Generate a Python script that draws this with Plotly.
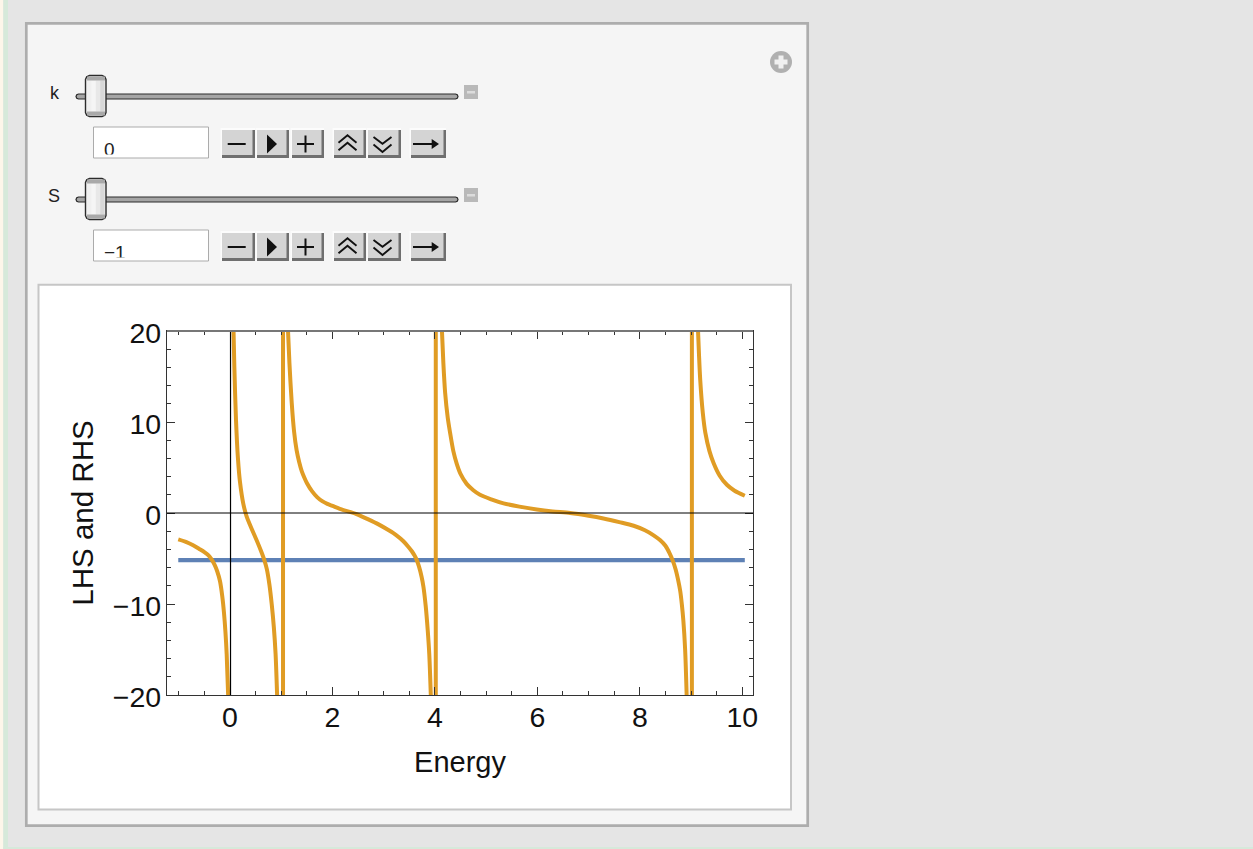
import plotly.graph_objects as go

# ---- data ----
lhs_level = [-5.18, -5.18]
lhs_energy = [-1.01, 10.05]

branch1_x = [-1.01, -0.85, -0.72, -0.6, -0.5, -0.42, -0.36, -0.3, -0.25, -0.195, -0.15, -0.117, -0.09, -0.065, -0.03]
branch1_y = [-2.9, -3.2, -3.55, -3.95, -4.3, -4.65, -5.1, -5.7, -6.4, -7.5, -9.2, -11.0, -13.0, -15.5, -21.0]

branch2_x = [0.065, 0.085, 0.117, 0.155, 0.195, 0.26, 0.326, 0.42, 0.52, 0.6, 0.67, 0.72, 0.77, 0.814, 0.855, 0.89, 0.925]
branch2_y = [21.0, 16.0, 10.2, 6.0, 3.4, 1.0, -0.4, -1.7, -3.0, -4.1, -5.18, -6.2, -7.9, -10.0, -12.5, -15.5, -21.0]

branch3_x = [1.125, 1.16, 1.205, 1.25, 1.30, 1.35, 1.40, 1.45, 1.5, 1.6, 1.7, 1.8, 1.9, 2.0, 2.2, 2.34,
             2.47, 2.7, 2.9, 3.1, 3.25, 3.385, 3.48, 3.55, 3.6, 3.646, 3.69, 3.74, 3.776, 3.82, 3.86, 3.89, 3.926]
branch3_y = [21.0, 16.5, 12.1, 9.0, 6.9, 5.6, 4.6, 3.9, 3.3, 2.4, 1.75, 1.3, 1.0, 0.78, 0.35, 0.12,
             -0.12, -0.7, -1.25, -1.9, -2.45, -3.1, -3.7, -4.2, -4.65, -5.18, -5.9, -7.0, -8.1, -10.2, -12.9, -15.5, -21.0]

branch4_x = [4.13, 4.165, 4.2, 4.25, 4.297, 4.36, 4.427, 4.5, 4.62, 4.75, 4.88, 5.1, 5.34, 5.65, 5.99, 6.3, 6.64,
             7.0, 7.29, 7.6, 7.88, 8.1, 8.27, 8.4, 8.5, 8.58, 8.64, 8.7, 8.75, 8.79, 8.82, 8.85, 8.885, 8.92]
branch4_y = [21.0, 16.5, 13.2, 10.5, 8.8, 6.8, 5.4, 4.3, 3.2, 2.5, 2.0, 1.5, 1.06, 0.7, 0.38, 0.17, 0.0,
             -0.3, -0.6, -1.0, -1.4, -1.9, -2.45, -3.0, -3.6, -4.4, -5.18, -6.2, -7.4, -8.6, -10.0, -11.8, -15.0, -21.0]

branch5_x = [9.13, 9.155, 9.18, 9.23, 9.28, 9.36, 9.44, 9.56, 9.70, 9.85, 10.05]
branch5_y = [21.0, 17.5, 14.6, 11.0, 8.8, 6.8, 5.5, 4.1, 3.1, 2.45, 1.9]

pole_x = [1.035, 4.017, 9.017]
pole_y = [-21, 21]

x_range = [-1.23, 10.21]
y_range = [-20, 20]
x_title = "Energy"
y_title = "LHS and RHS"
slider_names = ["k", "S"]
field_values = ["0", "\u22121"]

ORANGE = "#e09c24"
BLUE = "#5e81b5"
FONT = "Liberation Sans"

# plot frame in page pixels
L, R, T, B = 167, 753, 331, 695
W, H = 1253, 849

fig = go.Figure()
fig.add_trace(go.Scatter(x=lhs_energy, y=lhs_level, mode="lines",
                         line=dict(color=BLUE, width=4.4), hoverinfo="skip"))
for bx, by in [(branch1_x, branch1_y), (branch2_x, branch2_y), (branch3_x, branch3_y),
               (branch4_x, branch4_y), (branch5_x, branch5_y)]:
    fig.add_trace(go.Scatter(x=bx, y=by, mode="lines",
                             line=dict(color=ORANGE, width=4, shape="spline", smoothing=0.8),
                             hoverinfo="skip"))
for p in pole_x:
    fig.add_trace(go.Scatter(x=[p, p], y=pole_y, mode="lines",
                             line=dict(color=ORANGE, width=4), hoverinfo="skip"))

shapes = []
def X(v): return (v - L) / (R - L)
def Y(v): return (B - v) / (B - T)

def rect(x0, y0, x1, y1, fill, line=None, lw=1, layer="below"):
    shapes.append(dict(type="rect", xref="paper", yref="paper", layer=layer,
                       x0=X(x0), x1=X(x1), y0=Y(y0), y1=Y(y1), fillcolor=fill,
                       line=dict(color=line or fill, width=lw if line else 0)))

def path(pts, fill=None, line=None, lw=1, close=False, layer="below"):
    d = "M " + " L ".join(f"{X(a):.6f},{Y(b):.6f}" for a, b in pts) + (" Z" if close else "")
    shapes.append(dict(type="path", xref="paper", yref="paper", layer=layer, path=d,
                       fillcolor=fill or "rgba(0,0,0,0)",
                       line=dict(color=line or "rgba(0,0,0,0)", width=lw if line else 0)))

def rrect(x0, y0, x1, y1, r, fill, line=None, lw=1):
    c = r * 0.3
    pts = [(x0 + r, y0), (x1 - r, y0), (x1 - c, y0 + c), (x1, y0 + r), (x1, y1 - r), (x1 - c, y1 - c),
           (x1 - r, y1), (x0 + r, y1), (x0 + c, y1 - c), (x0, y1 - r), (x0, y0 + r), (x0 + c, y0 + c)]
    path(pts, fill=fill, line=line, lw=lw, close=True)

# page background strips
rect(0, 0, 3.3, H, "#fdf6ea")
rect(3.3, 0, 8, H, "#d6e9da")
rect(3.3, 847, W, H, "#d6e9da")
# outer panel
rect(26.3, 23.3, 807.7, 825.7, "#f5f5f5", "#adadad", 2.7)
# plot panel
rect(38.5, 284.8, 791, 809.5, "#ffffff", "#c6c6c6", 2)

ann = []
def text(x, y, s, size, color="#222222"):
    ann.append(dict(xref="paper", yref="paper", x=X(x), y=Y(y), text=s, showarrow=False,
                    font=dict(family=FONT, size=size, color=color),
                    xanchor="center", yanchor="middle"))

def button(x0, x1, y0, y1):
    rect(x0 - 1.5, y0 - 2, x1, y1, "#fcfcfc")
    rect(x0, y0, x1, y1, "#6f6f6f")
    rect(x0, y0, x1 - 2.5, y1 - 3, "#d4d4d4")

def controls(i, cy, top):
    # slider
    rrect(76, cy - 2.5, 458, cy + 2.5, 2.5, "#a5a5a5", "#2c2c2c", 1.2)
    ty0, ty1 = cy - 21, cy + 20
    rrect(85.5, ty0, 106, ty1, 4, "#f0f0f0", "#2c2c2c", 1.4)
    for k, col in enumerate(["#f0f0f0", "#f5f5f5", "#e8e8e8", "#d8d8d8"]):
        rect(87 + 4.4 * k, ty0 + 5, 87 + 4.4 * (k + 1), ty1 - 5, col)
    rect(87, ty0 + 1, 105, ty0 + 5, "#a9a9a9")
    rect(87, ty1 - 5, 105, ty1 - 1, "#a9a9a9")
    # minus box
    rect(464, cy - 11.5, 478, cy + 2.5, "#b9b9b9")
    rect(467, cy - 5.5, 475, cy - 3, "#dcdcdc")
    # field
    rect(93.5, top - 3, 208.5, top + 28, "#ffffff", "#ababab", 1)
    ann.append(dict(xref="paper", yref="paper", x=X(103.5), y=Y(top + 8.5),
                    text=field_values[i], showarrow=False, height=15.5, width=60,
                    align="left", valign="top", xanchor="left", yanchor="top",
                    borderpad=0, borderwidth=0,
                    font=dict(family=FONT, size=19, color="#222222")))
    # buttons
    y0, y1 = top, top + 28
    for a, b in [(222, 255), (257, 289), (292, 324), (334, 366), (368, 401), (411, 446)]:
        button(a, b, y0, y1)
    m = top + 14
    ink = "#111111"
    path([(227.7, m), (245.7, m)], line=ink, lw=2)                  # minus
    path([(267, m - 9.5), (267, m + 9.5), (277, m)], fill=ink, close=True)   # play
    path([(297, m), (314, m)], line=ink, lw=2)                      # plus
    path([(305.5, m - 8.5), (305.5, m + 8.5)], line=ink, lw=2)
    for apex, ends in [(m - 8.7, m - 1.3), (m - 1.3, m + 6.3)]:     # double up
        path([(338.5, ends), (347.5, apex), (356.5, ends)], line=ink, lw=1.9)
    for ends, apex in [(m - 7, m - 0.3), (m + 0.6, m + 8)]:         # double down
        path([(373.5, ends), (382.5, apex), (391.5, ends)], line=ink, lw=1.9)
    path([(413, m), (433, m)], line=ink, lw=2)                      # arrow
    path([(431.7, m - 5), (431.7, m + 5), (439, m)], fill=ink, close=True)

controls(0, 96.5, 130)
controls(1, 199.5, 233)
text(55, 92.5, slider_names[0], 18)
text(54, 195.5, slider_names[1], 18)

# plus circle
shapes.append(dict(type="circle", xref="paper", yref="paper", layer="below",
                   x0=X(770), x1=X(792), y0=Y(51), y1=Y(73), fillcolor="#b0b0b0", line=dict(width=0)))
rect(778.5, 55.5, 783.5, 68.5, "#f0f0f0")
rect(774.5, 59.5, 787.5, 64.5, "#f0f0f0")

# axes drawn over the curves, thin black
axis_line = dict(color="#000000", width=1.2)
shapes.append(dict(type="line", xref="x", yref="y", layer="above", x0=x_range[0], x1=x_range[1], y0=0, y1=0, line=dict(color="#000000", width=1)))
shapes.append(dict(type="line", xref="x", yref="y", layer="above", x0=0.01, x1=0.01, y0=y_range[0], y1=y_range[1], line=axis_line))
# top edge of the frame is grey
rect(L, T - 1, R, T + 1, "#777777", layer="above")

axis_common = dict(showgrid=False, zeroline=False, showline=True, linecolor="#333333", linewidth=1.2,
                   mirror="ticks", ticks="inside", ticklen=8, tickwidth=1, tickcolor="#333333",
                   tickfont=dict(family=FONT, size=28.5, color="#111111"))
fig.update_layout(
    width=W, height=H, autosize=False,
    margin=dict(l=L, r=W - R, t=T, b=H - B, pad=0),
    paper_bgcolor="#e5e5e5", plot_bgcolor="rgba(0,0,0,0)",
    showlegend=False, shapes=shapes, annotations=ann,
    xaxis=dict(range=x_range, tick0=0, dtick=2, ticklabelstandoff=-3,
               minor=dict(dtick=0.5, ticks="inside", ticklen=4, tickwidth=1, tickcolor="#333333", showgrid=False),
               title=dict(text=x_title, font=dict(family=FONT, size=29, color="#111111"), standoff=19),
               **axis_common),
    yaxis=dict(range=y_range, tick0=-20, dtick=10, ticklabelshift=2, ticklabelstandoff=-1,
               minor=dict(dtick=2, ticks="inside", ticklen=4, tickwidth=1, tickcolor="#333333", showgrid=False),
               title=dict(text=y_title, font=dict(family=FONT, size=29.5, color="#111111"), standoff=10),
               **axis_common),
)
fig.write_html("out.html", config=dict(displayModeBar=False),
               post_script="document.body.style.margin='0';document.body.style.overflow='hidden';")
